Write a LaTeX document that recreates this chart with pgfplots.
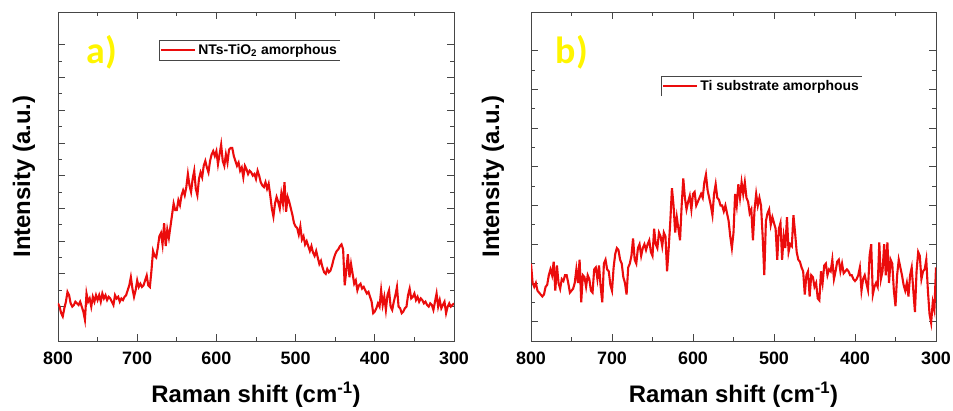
\documentclass[border=0pt]{standalone}
\usepackage{fontspec}
\setmainfont{Liberation Sans}
\newfontfamily\calib{Carlito}
\usepackage{pgfplots}
\pgfplotsset{compat=1.18}
\definecolor{myred}{RGB}{235,12,12}
\definecolor{myyellow}{RGB}{255,245,0}
\definecolor{axgray}{RGB}{70,70,70}

\pgfplotsset{ramanstyle/.style={
  scale only axis, height=329bp,
  xmin=300, xmax=800, x dir=reverse,
  xtick={300,400,...,800}, minor x tick num=1,
  minor y tick num=1,
  tick align=inside, major tick length=7bp, minor tick length=4bp,
  axis line style={axgray, line width=0.8bp},
  every tick/.style={axgray, line width=0.8bp},
  yticklabels={},
  /pgf/number format/assume math mode=true,
  /pgf/number format/1000 sep={},
  xticklabel style={font=\fontsize{18}{20}\selectfont\bfseries, anchor=center, yshift=-17bp},
  xlabel={Raman shift (cm\textsuperscript{-1})},
  ylabel={Intensity (a.u.)},
  label style={font=\fontsize{24}{26}\selectfont\bfseries},
  xlabel style={at={(axis description cs:0.5,-0.164)}, anchor=center},
  legend image code/.code={\draw[#1] (0bp,0bp) -- (34bp,0bp);},
  legend cell align=left,
  clip mode=individual,
}}

\begin{document}
\begin{tikzpicture}
\useasboundingbox (0,0) rectangle (953bp,411bp);
\begin{axis}[ramanstyle, width=396bp, at={(58bp,70bp)}, anchor=south west,
  ymin=-0.1, ymax=20, ytick={2,4,...,18},
  ylabel style={at={(axis description cs:-0.086,0.5)}, anchor=center},
  legend style={name=leg1, font=\fontsize{14}{16}\selectfont\bfseries, draw=none, fill=none,
    at={(axis description cs:0.255,0.915)}, anchor=north west, inner xsep=1bp, inner ysep=2bp}]
\addplot[myred, line width=2.1bp] table {
800 2.2
798 2.0
796 1.6
794 1.4
792 1.9
790 2.3
788 2.9
786 2.7
784 2.2
782 2.0
780 2.1
778 2.3
776 2.2
774 2.1
772 2.3
770 2.0
768 1.7
766 1.2
764 2.8
762 2.3
760 2.5
758 2.0
756 2.6
754 2.3
752 2.7
750 2.4
748 2.7
746 2.3
744 2.8
742 2.5
740 2.7
738 2.4
736 2.6
734 2.5
732 2.3
730 2.1
728 2.7
726 2.5
724 2.6
722 2.3
720 2.5
718 2.4
716 2.6
714 2.7
712 3.0
710 3.3
708 3.8
706 3.1
704 2.6
702 3.0
700 3.6
698 3.2
696 3.4
694 3.2
692 3.3
690 3.6
688 3.9
686 3.3
684 3.2
682 4.2
680 5.4
678 5.1
676 5.0
674 5.6
672 6.3
670 6.5
668 5.8
666 7.1
664 5.7
662 6.7
660 6.2
658 6.9
656 7.6
654 8.3
652 7.9
650 7.9
648 8.5
646 8.2
644 8.8
642 9.1
640 8.8
638 9.3
636 10.1
634 9.4
632 9.0
630 9.8
628 10.3
626 9.2
624 8.8
622 9.8
620 10.2
618 9.9
616 10.6
614 10.9
612 10.5
610 10.2
608 10.9
606 11.3
604 11.5
602 11.2
600 11.5
598 10.7
596 11.3
594 11.9
592 10.9
590 10.6
588 11.3
586 10.8
584 11.6
582 11.7
580 11.7
578 11.2
576 10.9
574 10.6
572 10.8
570 10.3
568 10.5
566 9.9
564 10.6
562 10.4
560 10.1
558 10.3
556 10.2
554 10.0
552 10.1
550 9.8
548 10.3
546 10.0
544 9.6
542 9.4
540 9.3
538 9.6
536 9.2
534 9.5
532 8.8
530 8.0
528 7.5
526 8.3
524 8.7
522 8.4
520 8.0
518 8.9
516 8.3
514 9.6
512 7.8
510 8.7
508 8.4
506 8.0
504 7.6
502 7.1
500 6.9
498 6.8
496 6.4
494 6.9
492 6.1
490 6.3
488 5.8
486 6.0
484 5.7
482 5.4
480 5.7
478 5.3
476 5.1
474 5.4
472 5.0
470 4.6
468 4.8
466 4.4
464 4.1
462 4.0
460 4.3
458 4.1
456 4.2
454 4.5
452 4.9
450 5.2
448 5.4
446 5.5
444 5.7
442 5.8
440 5.5
438 3.3
436 4.2
434 5.2
432 3.8
430 4.6
428 4.0
426 3.4
424 3.6
422 3.0
420 3.3
418 3.4
416 3.1
414 3.2
412 3.0
410 2.8
408 2.9
406 2.6
404 2.3
402 1.6
400 1.7
398 1.9
396 2.2
394 2.0
392 3.0
390 2.1
388 2.6
386 1.8
384 2.7
382 3.0
380 2.0
378 1.8
376 2.3
374 2.7
372 3.2
370 2.0
368 1.9
366 1.6
364 1.7
362 1.9
360 2.0
358 2.7
356 3.1
354 2.5
352 2.6
350 2.8
348 2.4
346 2.6
344 2.3
342 2.5
340 2.4
338 2.2
336 2.3
334 2.1
332 2.0
330 2.2
328 2.1
326 1.8
324 2.3
322 2.8
320 2.0
318 2.4
316 1.9
314 2.1
312 2.3
310 1.6
308 2.0
306 2.2
304 2.0
302 2.1
300 2.2
};
\addlegendentry{NTs-TiO\textsubscript{2} amorphous}
\node[font=\calib\fontsize{38}{40}\selectfont\bfseries, text=myyellow] at (axis description cs:0.111,0.878) {a)};
\end{axis}
\draw[axgray, line width=0.6bp] (leg1.north east) -- (leg1.north west) -- (leg1.south west) -- (leg1.south east);

\begin{axis}[ramanstyle, width=405bp, at={(531bp,70bp)}, anchor=south west,
  ymin=0.5, ymax=9, ytick={1,2,...,8},
  ylabel style={at={(axis description cs:-0.094,0.5)}, anchor=center},
  legend style={name=leg2, font=\fontsize{14}{16}\selectfont\bfseries, draw=none, fill=none,
    at={(axis description cs:0.321,0.805)}, anchor=north west, inner xsep=1bp, inner ysep=2bp}]
\addplot[myred, line width=2.1bp] table {
800 2.5
798 2.0
796 1.9
794 2.0
792 1.8
790 1.75
788 1.7
786 1.65
784 1.7
782 1.9
780 1.95
778 2.2
776 2.35
774 2.2
772 2.55
770 1.8
768 2.45
766 2.0
764 1.85
762 2.1
760 2.05
758 2.2
756 2.2
754 2.0
752 1.75
750 1.8
748 1.85
746 2.0
744 2.35
742 2.0
740 2.6
738 1.5
736 2.2
734 2.15
732 1.9
730 2.2
728 2.1
726 1.8
724 1.75
722 2.35
720 2.4
718 2.1
716 2.45
714 1.9
712 1.5
710 2.5
708 2.6
706 2.35
704 2.3
702 1.95
700 1.8
698 2.4
696 2.75
694 2.9
692 2.85
690 2.6
688 2.5
686 2.15
684 2.0
682 1.7
680 2.4
678 2.5
676 2.7
674 3.15
672 2.6
670 2.5
668 2.9
666 3.0
664 2.7
662 2.9
660 3.0
658 2.85
656 3.0
654 3.1
652 2.8
650 2.7
648 3.4
646 3.0
644 2.9
642 3.3
640 3.2
638 2.95
636 3.3
634 3.2
632 2.3
630 2.9
628 3.6
626 4.45
624 4.0
622 3.3
620 3.7
618 3.4
616 3.1
614 4.0
612 4.7
610 4.2
608 3.9
606 4.1
604 4.25
602 3.9
600 4.3
598 4.35
596 4.0
594 4.1
592 4.2
590 4.3
588 4.2
586 4.6
584 4.8
582 4.4
580 4.2
578 4.0
576 3.75
574 4.3
572 4.55
570 4.2
568 4.15
566 4.0
564 4.0
562 3.85
560 4.0
558 3.8
556 3.6
554 3.2
552 2.9
550 3.3
548 4.3
546 4.0
544 4.55
542 4.2
540 4.6
538 4.3
536 4.6
534 4.2
532 4.1
530 3.8
528 3.9
526 3.1
524 3.9
522 4.3
520 4.0
518 4.2
516 4.0
514 3.2
512 2.2
510 3.6
508 3.8
506 3.9
504 3.5
502 3.7
500 3.55
498 3.4
496 2.6
494 3.4
492 3.55
490 2.6
488 3.2
486 2.9
484 3.7
482 2.8
480 3.0
478 2.95
476 3.75
474 3.3
472 2.8
470 2.6
468 2.55
466 2.4
464 2.3
462 1.7
460 2.2
458 2.3
456 1.65
454 2.2
452 2.15
450 1.9
448 2.0
446 1.6
444 1.55
442 2.3
440 2.0
438 2.45
436 2.5
434 2.2
432 2.35
430 2.3
428 2.6
426 2.1
424 2.3
422 2.55
420 2.6
418 2.3
416 2.5
414 2.25
412 2.3
410 2.35
408 2.3
406 2.2
404 2.2
402 2.1
400 2.05
398 2.1
396 2.2
394 2.4
392 1.8
390 2.1
388 2.2
386 2.0
384 1.82
382 2.7
380 3.0
378 1.7
376 1.9
374 2.0
372 1.9
370 3.05
368 2.1
366 2.3
364 3.0
362 2.2
360 3.05
358 2.0
356 2.6
354 2.5
352 1.8
350 1.4
348 2.2
346 2.6
344 2.4
342 2.2
340 1.95
338 1.8
336 2.0
334 1.65
332 2.2
330 2.4
328 1.8
326 1.25
324 2.3
322 2.8
320 2.7
318 2.1
316 2.3
314 2.35
312 2.6
310 1.8
308 1.2
306 0.97
304 1.5
302 1.3
300 2.4
};
\addlegendentry{Ti substrate amorphous}
\node[font=\calib\fontsize{38}{40}\selectfont\bfseries, text=myyellow] at (axis description cs:0.101,0.878) {b)};
\end{axis}
\draw[axgray, line width=0.6bp] (leg2.south west) -- (leg2.north west) -- (leg2.north east);
\end{tikzpicture}
\end{document}
